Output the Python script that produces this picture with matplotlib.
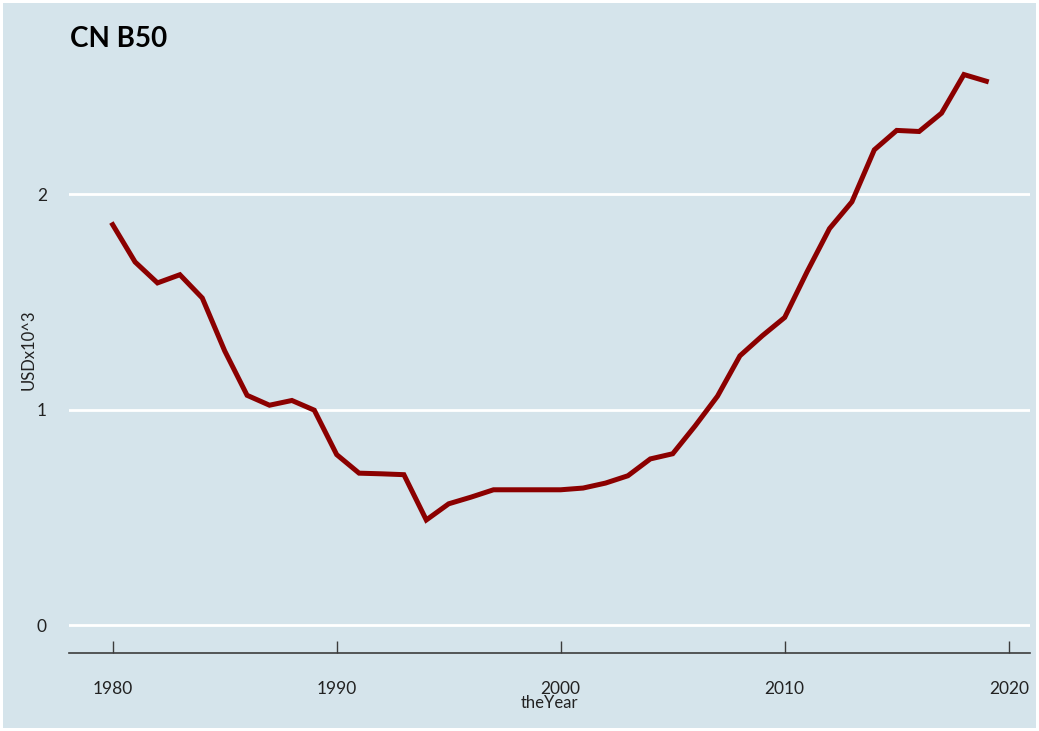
import numpy as np
import matplotlib
matplotlib.use("Agg")
import matplotlib.pyplot as plt
from matplotlib.patches import Rectangle

# CN B50, USD x 10^3
years = list(range(1980, 2020))
values = [1.858, 1.685, 1.588, 1.626, 1.518, 1.273, 1.067, 1.021, 1.043, 0.998,
          0.792, 0.706, 0.703, 0.699, 0.489, 0.564, 0.595, 0.629, 0.629, 0.629,
          0.629, 0.637, 0.660, 0.694, 0.772, 0.796, 0.925, 1.063, 1.250, 1.343,
          1.428, 1.640, 1.840, 1.964, 2.205, 2.295, 2.290, 2.375, 2.554, 2.523]
xticks = [1980, 1990, 2000, 2010, 2020]
yticks = [0, 1, 2]

bg = "#d5e4eb"
plt.rcParams['font.family'] = ['Lato', 'DejaVu Sans']

W, H = 1039, 731
fig = plt.figure(figsize=(W / 100, H / 100), dpi=100, facecolor="white")
fig.patches.append(Rectangle((3 / W, 3 / H), 1 - 6 / W, 1 - 6 / H,
                             transform=fig.transFigure, facecolor=bg,
                             edgecolor="none", zorder=-10))

ax = fig.add_axes([69 / W, (H - 653) / H, (1030 - 69) / W, (653 - 47) / H])
ax.set_facecolor(bg)

ax.plot(years, values, color="#8b0000", lw=3.6, solid_joinstyle="miter", zorder=3)

ymax = max(values)
pad = 0.05 * ymax
ax.set_ylim(-pad, ymax + pad)
xr = years[-1] - years[0]
ax.set_xlim(years[0] - 0.05 * xr, years[-1] + 0.05 * xr)

ax.set_yticks(yticks)
ax.set_yticklabels([str(t) for t in yticks])
ax.set_xticks(xticks)
ax.set_xticklabels([str(t) for t in xticks])

ax.grid(axis="y", color="white", lw=2)
ax.set_axisbelow(True)
for s in ["top", "right", "left"]:
    ax.spines[s].set_visible(False)
ax.spines["bottom"].set_color("#3c3c3c")
ax.spines["bottom"].set_linewidth(1.2)

ax.tick_params(axis="y", length=0, pad=16, labelsize=12.5, labelcolor="#222222")
ax.tick_params(axis="x", direction="in", length=8.5, width=1.0, color="#3c3c3c",
               pad=20, labelsize=12.5, labelcolor="#222222")

ax.set_xlabel("theYear", fontsize=12, color="#222222", labelpad=-1)
ax.set_ylabel("USDx10^3", fontsize=12, color="#222222", labelpad=0)

fig.text(70 / W, 1 - 39 / H, "CN B50", fontsize=20, fontweight="bold",
         va="center", ha="left", color="black")

fig.savefig("out.png", dpi=100, facecolor=fig.get_facecolor())
